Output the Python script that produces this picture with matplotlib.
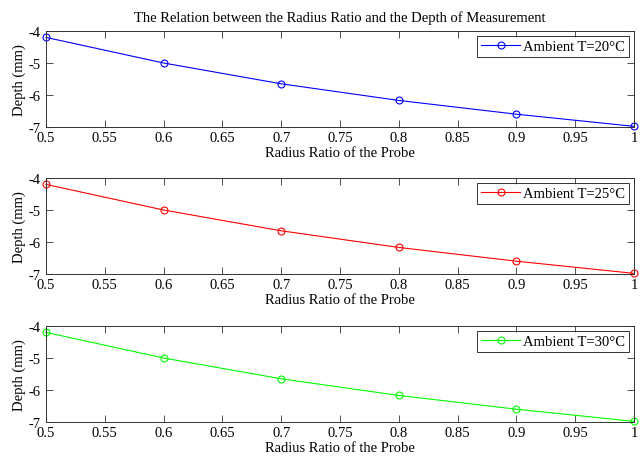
import numpy as np
import matplotlib.pyplot as plt

plt.rcParams['font.family'] = ['Liberation Serif', 'DejaVu Serif']

# Radius ratio vs. measured depth
radius_ratio = [0.5, 0.6, 0.7, 0.8, 0.9, 1.0]
depth_20 = [-4.2, -5.0, -5.65, -6.17, -6.6, -6.98]
depth_25 = [-4.2, -5.0, -5.65, -6.17, -6.6, -6.98]
depth_30 = [-4.2, -5.0, -5.65, -6.17, -6.6, -6.98]

series = [(depth_20, '#0000ff', 'Ambient T=20°C'),
          (depth_25, '#ff0000', 'Ambient T=25°C'),
          (depth_30, '#00ff00', 'Ambient T=30°C')]

xticks = [0.5, 0.55, 0.6, 0.65, 0.7, 0.75, 0.8, 0.85, 0.9, 0.95, 1.0]
xticklabels = ['0.5', '0.55', '0.6', '0.65', '0.7', '0.75', '0.8', '0.85', '0.9', '0.95', '1']

fig = plt.figure(figsize=(6.44, 4.6), dpi=100)
tops = [32, 179, 327]
for i, (vals, col, lab) in enumerate(series):
    top = tops[i]
    ax = fig.add_axes([46 / 644, 1 - (top + 96) / 460, 588 / 644, 96 / 460])
    ax.plot(radius_ratio, vals, '-o', color=col, lw=0.8, ms=5,
            mfc='none', mec=col, mew=0.8, label=lab, clip_on=False)
    ax.set_xlim(0.5, 1.0)
    ax.set_ylim(-7, -4)
    ax.set_xticks(xticks)
    ax.set_xticklabels(xticklabels)
    ax.set_yticks([-7, -6, -5, -4])
    ax.set_yticklabels(['-7', '-6', '-5', '-4'])
    ax.tick_params(direction='in', top=True, right=True, labelsize=10.5,
                   length=5, width=0.6, pad=3, color='#333333')
    ax.tick_params(axis='y', pad=4)
    for s in ax.spines.values():
        s.set_linewidth(0.7)
        s.set_color('#333333')
    ax.set_xlabel('Radius Ratio of the Probe', fontsize=10.5, labelpad=1)
    ax.set_ylabel('Depth (mm)', fontsize=10.5, labelpad=2)
    leg = ax.legend(loc='upper right', fontsize=10.5, frameon=True, fancybox=False,
                    edgecolor='black', borderaxespad=0.35, handlelength=2.7,
                    handletextpad=0.2, borderpad=0.25)
    leg.get_frame().set_linewidth(0.7)
    if i == 0:
        ax.set_title('The Relation between the Radius Ratio and the Depth of Measurement',
                     fontsize=10.5, pad=7)

fig.savefig('out.png', dpi=100)
